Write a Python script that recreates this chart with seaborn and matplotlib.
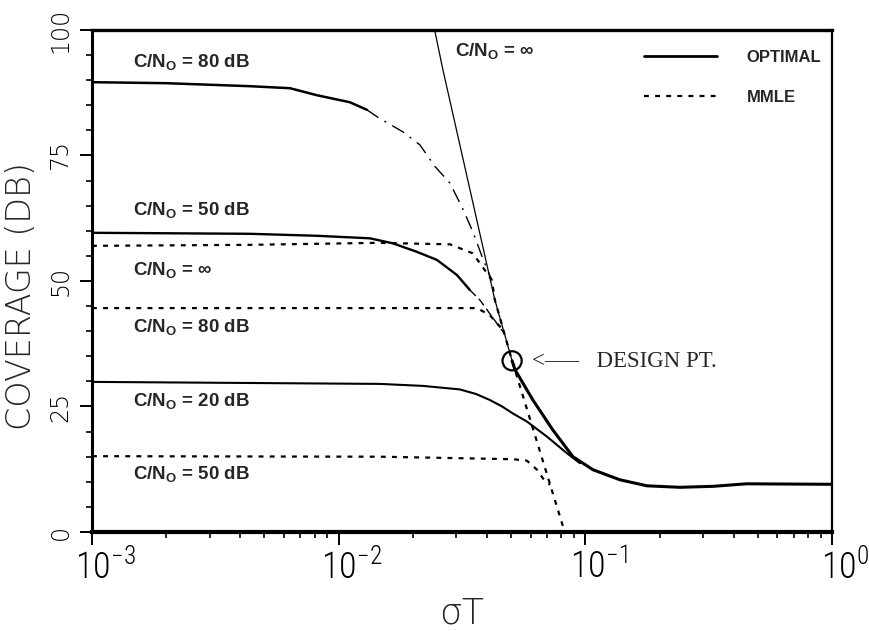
import matplotlib
matplotlib.use("Agg")
import matplotlib.pyplot as plt
import matplotlib.transforms as mtransforms
import seaborn as sns
from matplotlib.lines import Line2D
from matplotlib.ticker import MultipleLocator, LogLocator, NullFormatter

sns.set_style("ticks")
plt.rcParams['font.family'] = ['DejaVu Sans']
plt.rcParams['mathtext.fontset'] = 'custom'
plt.rcParams['mathtext.bf'] = 'Liberation Sans:bold'
plt.rcParams['mathtext.rm'] = 'Liberation Sans'

# --- OPTIMAL curves (solid) ---
opt80_x = [0.001, 0.002, 0.00437, 0.00635, 0.00817, 0.01111, 0.01302]
opt80_y = [89.6, 89.4, 88.8, 88.4, 87.0, 85.6, 84.1]
opt80_tail_x = [0.01302, 0.01443, 0.01823, 0.02136, 0.02458, 0.02827, 0.03191, 0.03502, 0.03845, 0.0415]
opt80_tail_y = [84.1, 82.6, 79.7, 77.1, 72.8, 69.5, 64.3, 59.8, 54.4, 50.5]
opt50_x = [0.001, 0.00437, 0.00817, 0.01339, 0.0166, 0.02077, 0.02503, 0.03016, 0.03405]
opt50_y = [59.6, 59.4, 59.0, 58.5, 57.5, 55.8, 54.2, 51.2, 48.2]
opt50_tail_x = [0.03405, 0.03739, 0.0470]
opt50_tail_y = [48.2, 46.2, 39.5]
opt20_x = [0.001, 0.0147, 0.022, 0.031, 0.036, 0.041, 0.046, 0.0509, 0.058, 0.0699, 0.0842, 0.0951]
opt20_y = [29.9, 29.5, 29.1, 28.4, 27.5, 26.3, 25.0, 23.6, 22.0, 19.0, 15.7, 13.7]
optinf_x = [0.0245, 0.02649, 0.04299, 0.0505]
optinf_y = [100.0, 92.0, 46.2, 34.1]
common_x = [0.0505, 0.0519, 0.0613, 0.0739, 0.0891, 0.1074, 0.1381, 0.1777, 0.2417, 0.33, 0.45, 1.0]
common_y = [34.1, 32.3, 26.3, 20.3, 15.0, 12.4, 10.4, 9.2, 8.9, 9.1, 9.6, 9.5]

# --- MMLE curves (dotted) ---
mmleinf_x = [0.001, 0.00437, 0.0144, 0.0283, 0.0350, 0.0418, 0.04299, 0.0505, 0.0825]
mmleinf_y = [57.0, 57.2, 57.6, 57.3, 55.5, 50.2, 46.2, 34.1, 0.0]
mmle80_x = [0.001, 0.0364, 0.0410, 0.0468]
mmle80_y = [44.6, 44.6, 43.2, 40.0]
mmle50_x = [0.001, 0.0147, 0.0509, 0.058, 0.0637, 0.0673, 0.0719]
mmle50_y = [15.1, 15.0, 14.5, 14.2, 12.4, 10.7, 9.4]

design_x, design_y = 0.0505, 34.1

xtick_vals = [1e-3, 1e-2, 1e-1, 1e0]
xtick_labels = [r'$\mathdefault{10^{-3}}$', r'$\mathdefault{10^{-2}}$',
                r'$\mathdefault{10^{-1}}$', r'$\mathdefault{10^{0}}$']
ytick_vals = [0, 25, 50, 75, 100]
ytick_labels = ['0', '25', '50', '75', '100']

fig = plt.figure(figsize=(8.7, 6.31), dpi=100)
ax = fig.add_axes([0.1057, 0.1569, 0.8506, 0.7956])

kw = dict(color='black', estimator=None, sort=False, ax=ax, legend=False)
sns.lineplot(x=opt80_x, y=opt80_y, linewidth=1.8, **kw)
sns.lineplot(x=opt80_tail_x, y=opt80_tail_y, linewidth=1.0, linestyle=(0, (10, 5, 1.5, 5)), **kw)
sns.lineplot(x=opt50_x, y=opt50_y, linewidth=1.7, **kw)
sns.lineplot(x=opt50_tail_x, y=opt50_tail_y, linewidth=1.0, linestyle=(0, (6, 3)), **kw)
sns.lineplot(x=opt20_x, y=opt20_y, linewidth=1.5, **kw)
sns.lineplot(x=optinf_x, y=optinf_y, linewidth=0.9, **kw)
sns.lineplot(x=common_x, y=common_y, linewidth=2.2, **kw)

dots = (0, (2.2, 2.8))
sns.lineplot(x=mmleinf_x, y=mmleinf_y, linewidth=1.6, linestyle=dots, **kw)
sns.lineplot(x=mmle80_x, y=mmle80_y, linewidth=1.6, linestyle=dots, **kw)
sns.lineplot(x=mmle50_x, y=mmle50_y, linewidth=1.6, linestyle=dots, **kw)

ax.scatter([design_x], [design_y], s=190, facecolors='none', edgecolors='black',
           linewidths=1.6, zorder=5)

ax.set_xscale('log')
ax.set_xlim(1e-3, 1)
ax.set_ylim(0, 100)
ax.set_xticks(xtick_vals, labels=xtick_labels, fontfamily='Roboto Condensed',
              fontweight='light', fontsize=26)
ax.xaxis.set_minor_locator(LogLocator(base=10, subs=range(2, 10)))
ax.xaxis.set_minor_formatter(NullFormatter())
ax.set_yticks(ytick_vals, labels=ytick_labels, rotation=90, va='center', fontsize=17,
              fontweight=200)
ax.yaxis.set_minor_locator(MultipleLocator(5))
ax.tick_params(which='major', direction='out', length=9, width=1.4, color='black',
               labelcolor='black')
ax.tick_params(which='minor', direction='out', length=4, width=1.2, color='black')
ax.tick_params(axis='y', which='major', pad=5)
ax.tick_params(axis='x', which='major', pad=3)

# the "10" sits just right of each decade tick in the original
shift = mtransforms.ScaledTranslation(13 / 100, 0, fig.dpi_scale_trans)
for lbl in ax.get_xticklabels():
    lbl.set_transform(lbl.get_transform() + shift)

for side, w in [('left', 2.2), ('bottom', 3.0), ('top', 2.4), ('right', 1.6)]:
    ax.spines[side].set_visible(True)
    ax.spines[side].set_linewidth(w)
    ax.spines[side].set_color('black')

ax.set_ylabel('COVERAGE (DB)', fontsize=24, fontweight=200)
ax.yaxis.set_label_coords(-0.073, 0.470)
ax.set_xlabel('σT', fontsize=26, fontweight=200)
ax.xaxis.set_label_coords(0.5, -0.129)

lab = dict(transform=ax.transAxes, fontsize=13.5, fontweight='bold',
           fontfamily='Liberation Sans', va='center', ha='left')
sub = r'C/N$_{\mathbf{O}}$'
ax.text(0.055, 0.934, sub + ' = 80 dB', **lab)
ax.text(0.055, 0.639, sub + ' = 50 dB', **lab)
ax.text(0.055, 0.520, sub + ' = ∞', **lab)
ax.text(0.055, 0.406, sub + ' = 80 dB', **lab)
ax.text(0.055, 0.259, sub + ' = 20 dB', **lab)
ax.text(0.055, 0.114, sub + ' = 50 dB', **lab)
ax.text(0.4905, 0.956, sub + ' = ∞', **lab)

ax.text(0.5946, 0.3406, '<\u2014\u2013   DESIGN PT.', transform=ax.transAxes,
        fontsize=16.5, fontfamily='Liberation Serif', va='center', ha='left')

handles = [Line2D([], [], color='black', linewidth=2.0),
           Line2D([], [], color='black', linewidth=1.6, linestyle=dots)]
ax.legend(handles, ['OPTIMAL', 'MMLE'], loc='upper right', bbox_to_anchor=(0.986, 0.960),
          frameon=False, borderpad=0, borderaxespad=0, handlelength=4.4,
          handletextpad=1.8, labelspacing=1.5,
          prop=dict(family='Liberation Sans', weight='bold', size=12))

fig.savefig('out.png', dpi=100)
